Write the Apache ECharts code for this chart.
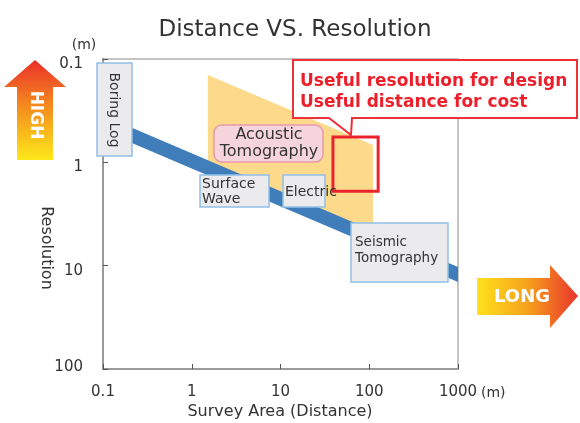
<!DOCTYPE html>
<html>
<head>
<meta charset="utf-8">
<script src="https://cdn.jsdelivr.net/npm/echarts@6/dist/echarts.min.js"></script>
<style>
html,body{margin:0;padding:0;background:#fff;}
#chart{width:580px;height:423px;}
</style>
</head>
<body>
<div id="chart"></div>
<script>
// ---- data (log-log space: x = survey distance (m), y = resolution (m)) ----
const xTickValues = [0.1, 1, 10, 100, 1000];
const yTickValues = [0.1, 1, 10, 100];
// main trend band (Boring Log -> Seismic Tomography): upper and lower edges
const bandX = [0.136, 1000];
const bandTopY = [0.394, 10.3];
const bandBottomY = [0.552, 14.4];
// acoustic tomography coverage region
const acousticX = [1.52, 110, 110, 1.52];
const acousticY = [0.143, 0.68, 4.73, 1.33];
// useful zone (design resolution / cost distance)
const usefulX = [39, 126];
const usefulY = [0.57, 1.9];

const FONT = 'DejaVu Sans';
const chart = echarts.init(document.getElementById('chart'));

function boxText(x, y, w, h, text, opts) {
  opts = opts || {};
  return [{
    type: 'rect', z: 100,
    shape: {x: x, y: y, width: w, height: h, r: opts.r || 0},
    style: {fill: opts.fill || '#ebebee', stroke: opts.stroke || '#93c0e8', lineWidth: 1.5}
  }, {
    type: 'text', z: 101,
    x: opts.tx, y: opts.ty, rotation: opts.rot || 0,
    style: {text: text, fill: '#333', font: (opts.fs || 12) + 'px "' + FONT + '"',
      align: opts.align || 'left', verticalAlign: 'middle', lineHeight: opts.lh || 16}
  }];
}

const graphics = [].concat(
  // title
  [{type: 'text', x: 295, y: 30, style: {text: 'Distance VS. Resolution', fill: '#333',
     font: '23px "' + FONT + '"', align: 'center', verticalAlign: 'middle'}}],
  // (m) labels and axis names
  [{type: 'text', x: 84, y: 45, style: {text: '(m)', fill: '#333', font: '14px "' + FONT + '"', align: 'center', verticalAlign: 'middle'}},
   {type: 'text', x: 481, y: 393, style: {text: '(m)', fill: '#333', font: '14px "' + FONT + '"', align: 'left', verticalAlign: 'middle'}},
   {type: 'text', x: 46, y: 248, rotation: -Math.PI / 2, style: {text: 'Resolution', fill: '#333', font: '16px "' + FONT + '"', align: 'center', verticalAlign: 'middle'}},
   {type: 'text', x: 280, y: 412, style: {text: 'Survey Area (Distance)', fill: '#333', font: '16px "' + FONT + '"', align: 'center', verticalAlign: 'middle'}}],
  // HIGH arrow
  [{type: 'polygon', shape: {points: [[35, 60], [66, 87], [53, 87], [53, 160], [17, 160], [17, 87], [4, 87]]},
     style: {fill: new echarts.graphic.LinearGradient(0, 0, 0, 1, [
       {offset: 0, color: '#ea2f2a'}, {offset: 0.45, color: '#f4891f'}, {offset: 1, color: '#fde91a'}])}},
   {type: 'text', x: 35, y: 115, rotation: -Math.PI / 2, style: {text: 'HIGH', fill: '#fff',
     font: 'bold 17px "' + FONT + '"', align: 'center', verticalAlign: 'middle'}}],
  // LONG arrow
  [{type: 'polygon', shape: {points: [[477, 278], [550, 278], [550, 265], [578, 296], [550, 328], [550, 315], [477, 315]]},
     style: {fill: new echarts.graphic.LinearGradient(0, 0, 1, 0, [
       {offset: 0, color: '#fde21b'}, {offset: 0.5, color: '#f7a11d'}, {offset: 1, color: '#e9332b'}])}},
   {type: 'text', x: 522, y: 297, style: {text: 'LONG', fill: '#fff',
     font: 'bold 18px "' + FONT + '"', align: 'center', verticalAlign: 'middle'}}],
  // boxes
  boxText(97, 63, 35, 93, 'Boring Log', {tx: 114, ty: 110, rot: -Math.PI / 2, align: 'center', fs: 14}),
  boxText(214, 125, 109, 37, 'Acoustic\nTomography', {tx: 269, ty: 143, align: 'center', fs: 16, lh: 17,
     r: 8, fill: '#f5d4dc', stroke: '#e899ab'}),
  boxText(200, 175, 69, 32, 'Surface\nWave', {tx: 202, ty: 192, fs: 14, lh: 15}),
  boxText(283, 175, 42, 32, 'Electric', {tx: 285, ty: 192, fs: 14}),
  boxText(351, 223, 97, 59, 'Seismic\nTomography', {tx: 355, ty: 250, fs: 13.5, lh: 16}),
  // callout
  [{type: 'polygon', z: 110, shape: {points: [[293, 60], [577, 60], [577, 118], [352, 118], [351, 135], [329, 118], [293, 118]]},
     style: {fill: '#fff', stroke: '#ee3038', lineWidth: 2}},
   {type: 'text', z: 111, x: 300, y: 82, style: {text: 'Useful resolution for design', fill: '#ec1f2b',
     font: 'bold 17px "' + FONT + '"', align: 'left', verticalAlign: 'middle'}},
   {type: 'text', z: 111, x: 300, y: 103, style: {text: 'Useful distance for cost', fill: '#ec1f2b',
     font: 'bold 17px "' + FONT + '"', align: 'left', verticalAlign: 'middle'}}]
);

function polygonItem(xs, ys, style) {
  return function (params, api) {
    const pts = xs.map((x, i) => api.coord([x, ys[i]]));
    return {type: 'polygon', shape: {points: pts}, style: style};
  };
}

chart.setOption({
  animation: false,
  backgroundColor: '#fff',
  grid: {left: 103, right: 122, top: 59, bottom: 54, show: true, borderColor: '#c4c4c4', borderWidth: 2},
  xAxis: {
    type: 'log', logBase: 10, min: xTickValues[0], max: xTickValues[xTickValues.length - 1],
    axisLine: {lineStyle: {color: '#9a9a9a', width: 2}},
    axisTick: {inside: true, length: 5, lineStyle: {color: '#555'}},
    splitLine: {show: false},
    axisLabel: {color: '#333', fontFamily: FONT, fontSize: 15, margin: 16,
      formatter: v => String(v)}
  },
  yAxis: {
    type: 'log', logBase: 10, inverse: true, min: yTickValues[0], max: yTickValues[yTickValues.length - 1],
    axisLine: {lineStyle: {color: '#9a9a9a', width: 2}},
    axisTick: {inside: true, length: 5, lineStyle: {color: '#555'}},
    splitLine: {show: false},
    axisLabel: {color: '#333', fontFamily: FONT, fontSize: 15, margin: 20,
      formatter: v => (v >= 100 ? '{b|' + v + '}' : '{a|' + v + '}'),
      rich: {
        a: {fontFamily: FONT, fontSize: 15, color: '#333', padding: [10, 0, 0, 0]},
        b: {fontFamily: FONT, fontSize: 15, color: '#333', padding: [0, 0, 4, 0]}
      }}
  },
  graphic: graphics,
  series: [
    {
      type: 'custom', z: 1, clip: true,
      renderItem: polygonItem(acousticX, acousticY, {fill: '#fcd98b'}),
      data: [[acousticX[0], acousticY[0]]]
    },
    {
      type: 'custom', z: 2, clip: true,
      renderItem: polygonItem(bandX.concat(bandX.slice().reverse()),
        bandTopY.concat(bandBottomY.slice().reverse()), {fill: '#3f7dbb'}),
      data: [[bandX[0], bandTopY[0]]]
    },
    {
      type: 'custom', z: 3, clip: true,
      renderItem: function (params, api) {
        const a = api.coord([usefulX[0], usefulY[0]]);
        const b = api.coord([usefulX[1], usefulY[1]]);
        return {type: 'rect', shape: {x: a[0], y: a[1], width: b[0] - a[0], height: b[1] - a[1]},
          style: {fill: 'none', stroke: '#e8242c', lineWidth: 3}, z2: 200};
      },
      data: [[usefulX[0], usefulY[0]]]
    }
  ]
});
</script>
</body>
</html>
